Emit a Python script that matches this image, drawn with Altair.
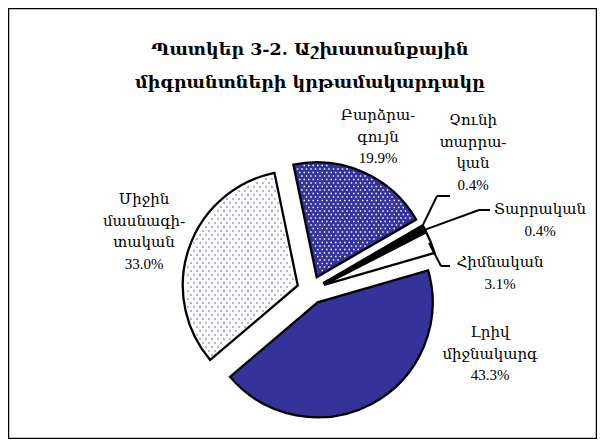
import math
import numpy as np
import pandas as pd
import altair as alt

# ---------------- data ----------------
title_lines = ["Պատկեր 3-2. Աշխատանքային", "միգրանտների կրթամակարդակը"]
categories = ["Բարձրագույն", "Չունի տարրական", "Տարրական", "Հիմնական",
              "Լրիվ միջնակարգ", "Միջին մասնագիտական"]
values = [19.9, 0.4, 0.4, 3.1, 43.3, 33.0]
name_lines = [["Բարձրա-", "գույն"], ["Չունի", "տարրա-", "կան"], ["Տարրական"],
              ["Հիմնական"], ["Լրիվ", "միջնակարգ"], ["Միջին", "մասնագի-", "տական"]]

# ---------------- style / layout ----------------
fill_colors = ["#333399", "#000000", "#000000", "#ffffff", "#333399", "#ffffff"]
W, H = 589, 431
CX, CY, R, EXPLODE = 303, 282, 115, 14
START = math.radians(-11.7)
LINE = 21.5
# label block: centre x, y of first line
label_pos = [(370, 107), (465, 112), (532, 201), (492, 254), (482, 324), (136, 191)]
# leader lines for the small slices: index -> (elbow, end)
leaders = {1: ((429, 188), (442, 188)), 2: ((471, 202), (482, 202)), 3: ((433, 258), (442, 258))}
# dot textures: index -> (colour, step x, step y, dot size)
textures = {0: ("#ffffff", 4.5, 3.5, 2.2), 5: ("#8484c0", 6.0, 4.0, 2.6)}

FONT = "Liberation Serif, DejaVu Serif, serif"
TFONT = "DejaVu Serif, serif"

# ---------------- derived tables ----------------
total = sum(values)
rows = []
cum = 0.0
for i, (c, v) in enumerate(zip(categories, values)):
    a0 = START + 2 * math.pi * cum / total
    a1 = START + 2 * math.pi * (cum + v) / total
    mid = (a0 + a1) / 2
    rows.append(dict(cat=c, v=v, t0=cum, t1=cum + v, a0=a0, a1=a1, mid=mid,
                     cx=CX + EXPLODE * math.sin(mid), cy=CY - EXPLODE * math.cos(mid)))
    cum += v
pie = pd.DataFrame(rows)

# dot textures inside patterned slices
dots = []
for idx, (col, sx_step, sy_step, sz) in textures.items():
    r_ = rows[idx]
    span = r_["a1"] - r_["a0"]
    ys = np.arange(CY - R - 20, CY + R + 20, sy_step)
    for j, yy in enumerate(ys):
        off = sx_step / 2 if j % 2 else 0.0
        for xx in np.arange(CX - R - 20 + off, CX + R + 20, sx_step):
            dx, dy = xx - r_["cx"], yy - r_["cy"]
            rr = math.hypot(dx, dy)
            if rr > R - 2.5 or rr < 4:
                continue
            rel = (math.atan2(dx, -dy) - r_["a0"]) % (2 * math.pi)
            if rel > span:
                continue
            d0 = rr * math.sin(min(rel, math.pi / 2))
            d1 = rr * math.sin(min(span - rel, math.pi / 2))
            if d0 < 2.5 or d1 < 2.5:
                continue
            dots.append(dict(x=xx, y=yy, col=col, sz=sz))
dots = pd.DataFrame(dots)

# label text rows
texts = []
for i, (lines, v) in enumerate(zip(name_lines, values)):
    x0, y0 = label_pos[i]
    for k, t in enumerate(lines + [f"{v:.1f}%"]):
        texts.append(dict(x=x0, y=y0 + k * LINE, t=t))
texts = pd.DataFrame(texts)

titles = pd.DataFrame([dict(x=302, y=41.5 + k * 33.5, t=t) for k, t in enumerate(title_lines)])

# leader segments
segs = []
for i, ((ex, ey), (tx, ty)) in leaders.items():
    r_ = rows[i]
    sx = r_["cx"] + (R - 2) * math.sin(r_["mid"])
    sy = r_["cy"] - (R - 2) * math.cos(r_["mid"])
    segs.append(dict(x=sx, y=sy, x2=ex, y2=ey))
    segs.append(dict(x=ex, y=ey, x2=tx, y2=ty))
segs = pd.DataFrame(segs)

xs = alt.Scale(domain=[0, W], range=[0, W])
ys_ = alt.Scale(domain=[0, H], range=[0, H])
X = lambda f: alt.X(f, type="quantitative", scale=xs, axis=None)
Y = lambda f: alt.Y(f, type="quantitative", scale=ys_, axis=None)
theta_scale = alt.Scale(domain=[0, total], range=[START, START + 2 * math.pi])

arc_fill = alt.Chart(pie).mark_arc(radius=R, strokeWidth=0).encode(
    x=X("cx"), y=Y("cy"),
    theta=alt.Theta("t0:Q", scale=theta_scale, stack=None), theta2="t1:Q",
    fill=alt.Fill("cat:N", scale=alt.Scale(domain=categories, range=fill_colors), legend=None),
)
dot_layer = alt.Chart(dots).mark_square(opacity=1).encode(
    x=X("x"), y=Y("y"), color=alt.Color("col:N", scale=None),
    size=alt.Size("sz:Q", scale=None)
)
arc_line = alt.Chart(pie).mark_arc(radius=R, fillOpacity=0, stroke="black", strokeWidth=2.3,
                                   strokeJoin="miter").encode(
    x=X("cx"), y=Y("cy"),
    theta=alt.Theta("t0:Q", scale=theta_scale, stack=None), theta2="t1:Q",
)
lead = alt.Chart(segs).mark_rule(color="black", strokeWidth=2).encode(
    x=X("x"), y=Y("y"), x2="x2", y2="y2"
)
lab = alt.Chart(texts).mark_text(font=FONT, fontSize=15, baseline="middle", align="center",
                                 color="black").encode(x=X("x"), y=Y("y"), text="t:N")
ttl = alt.Chart(titles).mark_text(font=TFONT, fontSize=17.5, fontWeight="bold", baseline="middle",
                                  align="center", color="black").encode(x=X("x"), y=Y("y"), text="t:N")

chart = alt.layer(arc_fill, dot_layer, arc_line, lead, lab, ttl).properties(
    width=W, height=H, padding=0, background="white"
).configure_view(stroke="black", strokeWidth=2.5)

chart.save("out.html", embed_options={"renderer": "svg", "actions": False})
